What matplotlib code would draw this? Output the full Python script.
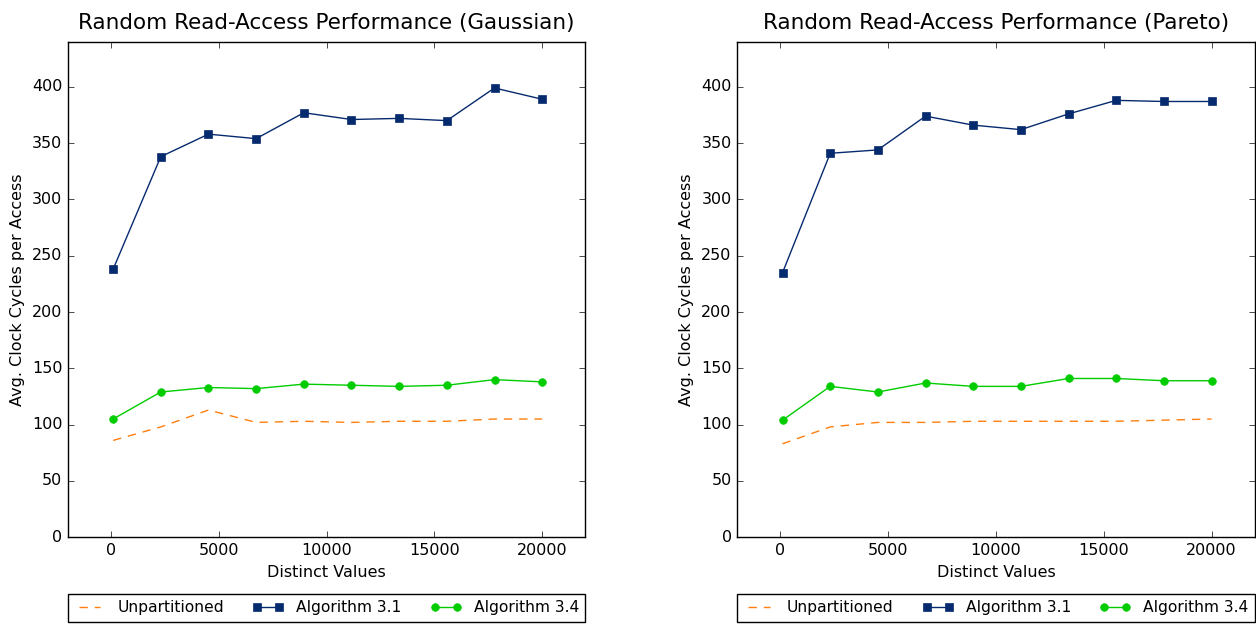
import matplotlib

matplotlib.use("Agg")

import matplotlib.pyplot as plt

plt.style.use("classic")
plt.rcParams.update(
    {
        "figure.facecolor": "white",
        "savefig.facecolor": "white",
        "font.family": "DejaVu Sans",
        "font.size": 11.5,
        "xtick.labelsize": 11.5,
        "ytick.labelsize": 11.5,
    }
)

# distinct values sampled (same grid for both distributions)
distinct = [100, 2311, 4522, 6733, 8944, 11156, 13367, 15578, 17789, 20000]

# avg. clock cycles per access
gauss_unpart = [86, 98, 113, 102, 103, 102, 103, 103, 105, 105]
gauss_alg31 = [238, 338, 358, 354, 377, 371, 372, 370, 399, 389]
gauss_alg34 = [105, 129, 133, 132, 136, 135, 134, 135, 140, 138]

pareto_unpart = [83, 98, 102, 102, 103, 103, 103, 103, 104, 105]
pareto_alg31 = [235, 341, 344, 374, 366, 362, 376, 388, 387, 387]
pareto_alg34 = [104, 134, 129, 137, 134, 134, 141, 141, 139, 139]

ORANGE = "#ff7f0e"
NAVY = "#062a6e"
GREEN = "#00cc00"

panels = [
    ("Random Read-Access Performance (Gaussian)", gauss_unpart, gauss_alg31, gauss_alg34),
    ("Random Read-Access Performance (Pareto)", pareto_unpart, pareto_alg31, pareto_alg34),
]

fig = plt.figure(figsize=(12.56, 6.24), dpi=100)
lefts = [0.054, 0.587]
for left, (title, unpart, alg31, alg34) in zip(lefts, panels):
    ax = fig.add_axes([left, 0.139, 0.412, 0.794])
    ax.plot(distinct, unpart, "--", color=ORANGE, lw=1.0, dashes=(6, 5), label="Unpartitioned")
    ax.plot(distinct, alg31, "-s", color=NAVY, mec=NAVY, ms=5.5, lw=1.0, label="Algorithm 3.1")
    ax.plot(distinct, alg34, "-o", color=GREEN, mec=GREEN, ms=5.5, lw=1.0, label="Algorithm 3.4")
    ax.set_xlim(-2000, 22000)
    ax.set_ylim(0, 440)
    ax.set_xticks([0, 5000, 10000, 15000, 20000])
    ax.set_yticks(range(0, 401, 50))
    ax.set_title(title, fontsize=15.5, y=1.012)
    ax.set_xlabel("Distinct Values")
    ax.set_ylabel("Avg. Clock Cycles per Access")
    ax.legend(
        loc="upper left",
        bbox_to_anchor=(0.0, -0.115, 1.0, 0.0),
        mode="expand",
        ncol=3,
        borderaxespad=0.0,
        fontsize=11.2,
        handlelength=2.0,
    )

fig.savefig("out.png", dpi=100)
